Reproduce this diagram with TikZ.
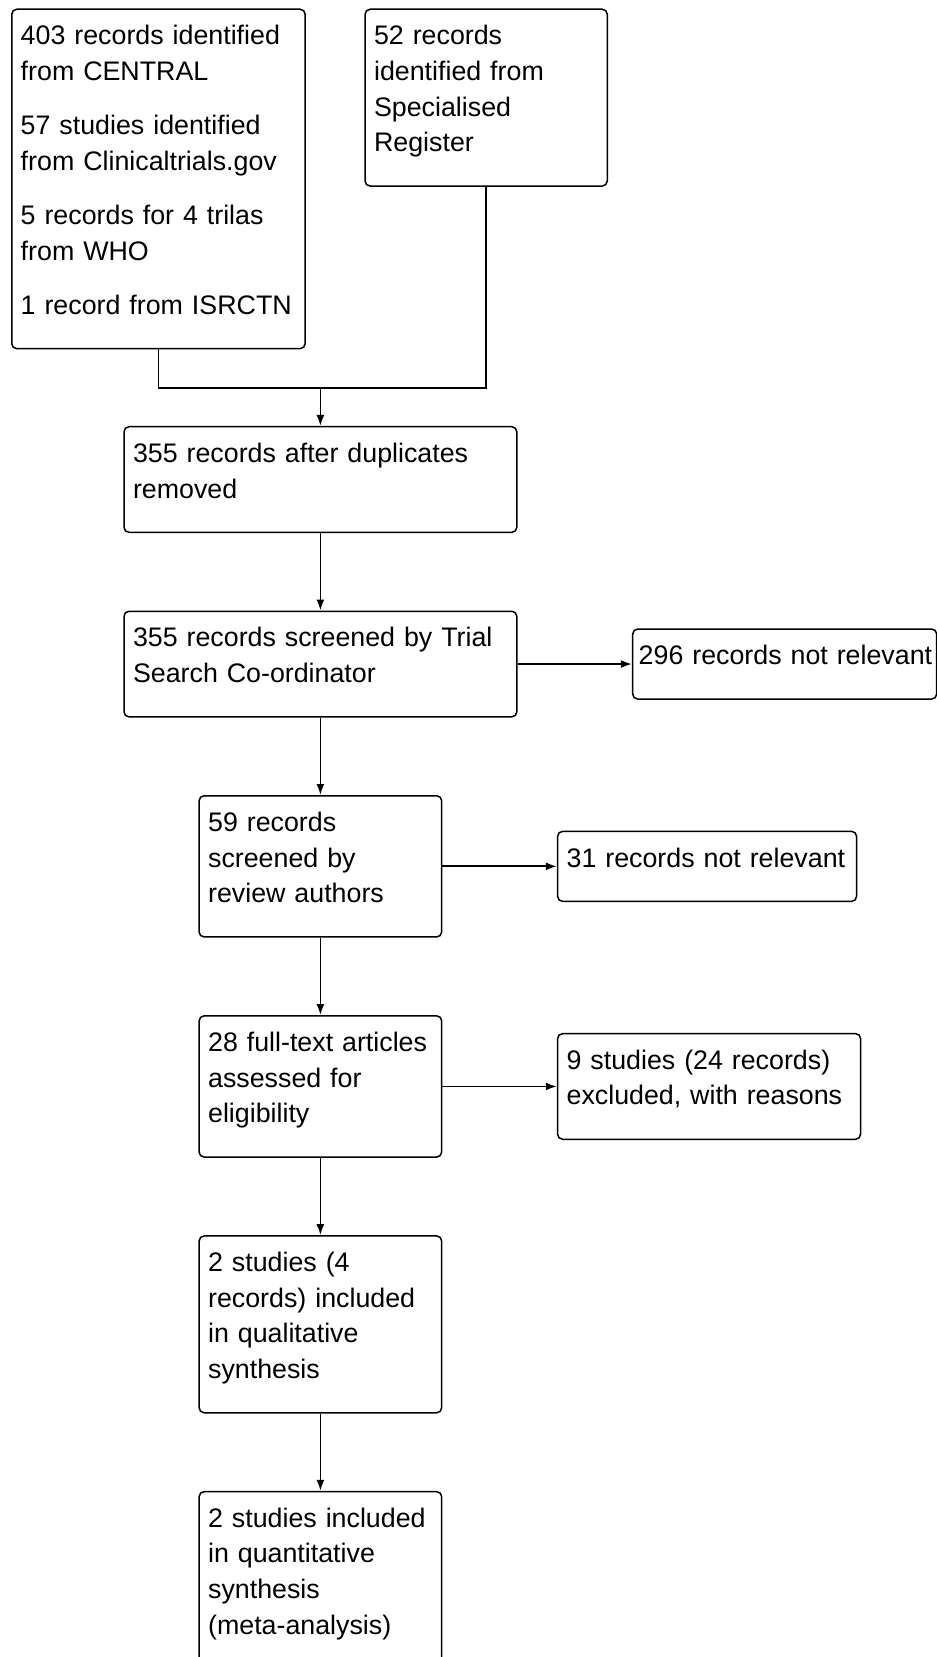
\documentclass[tikz,border=0pt]{standalone}
\usepackage{fontspec}
\setmainfont{Liberation Sans}
\usepackage{tikz}
\usetikzlibrary{arrows.meta, positioning}
\newcommand{\boxend}{\strut\par\kern6.4pt}

\begin{document}
\begin{tikzpicture}[node distance=38.7pt,
        recbox/.style={rectangle, draw=black, line width=0.75pt, rounded corners=2.5pt, align=left, inner xsep=4.5pt, inner ysep=5.4pt, font=\fontsize{13.4pt}{17.8pt}\selectfont, execute at begin node=\strut, execute at end node=\boxend},
        line/.style={draw=black, line width=0.9pt},
        arrow/.style={line, -{Latex[length=5.5pt, width=4pt]}}]

        \useasboundingbox (0,0) rectangle (468pt,-828.5pt);

        \node [recbox, text width=137.7pt, anchor=north west] (central) at (5.5pt,-4.25pt) {403 records identified\\from CENTRAL\\[9.3pt]
        57 studies identified\\from Clinicaltrials.gov\\[9.3pt]
        5 records for 4 trilas\\from WHO\\[9.3pt]
        1 record from ISRCTN};

        \node [recbox, text width=112.1pt, right=29.2pt of central.north east, anchor=north west] (register) {52 records\\identified from\\Specialised\\Register};

        \node [recbox, text width=187.4pt, anchor=north] (dedup) at (160.2pt,-213pt) {355 records after duplicates\\removed};

        \node [recbox, text width=187.4pt, below=of dedup] (screen) {355 records screened by Trial\\Search Co-ordinator};

        \node [recbox, text width=146pt, inner xsep=3pt, right=57.2pt of screen] (notrel1) {\mbox{296 records not relevant}};

        \node [recbox, text width=112.3pt, below=of screen] (authors) {59 records\\screened by\\review authors};

        \node [recbox, text width=140.5pt, right=57.2pt of authors] (notrel2) {31 records not relevant};

        \node [recbox, text width=112.3pt, below=of authors] (fulltext) {28 full-text articles\\assessed for\\eligibility};

        \node [recbox, text width=142.5pt, right=57.2pt of fulltext] (excluded) {9 studies (24 records)\\excluded, with reasons};

        \node [recbox, text width=112.3pt, below=of fulltext] (qual) {2 studies (4\\records) included\\in qualitative\\synthesis};

        \node [recbox, text width=112.3pt, below=of qual] (quant) {2 studies included\\in quantitative\\synthesis\\(meta-analysis)};

        \coordinate [above=19.15pt of dedup.north] (merge);

        \path [line] (central.south) |- (merge) -| (register.south);
        \path [arrow] (merge) -- (dedup);
        \path [arrow] (dedup) -- (screen);
        \path [arrow] (screen) -- (notrel1);
        \path [arrow] (screen) -- (authors);
        \path [arrow] (authors) -- (notrel2);
        \path [arrow] (authors) -- (fulltext);
        \path [arrow] (fulltext) -- (excluded);
        \path [arrow] (fulltext) -- (qual);
        \path [arrow] (qual) -- (quant);
    \end{tikzpicture}
\end{document}
